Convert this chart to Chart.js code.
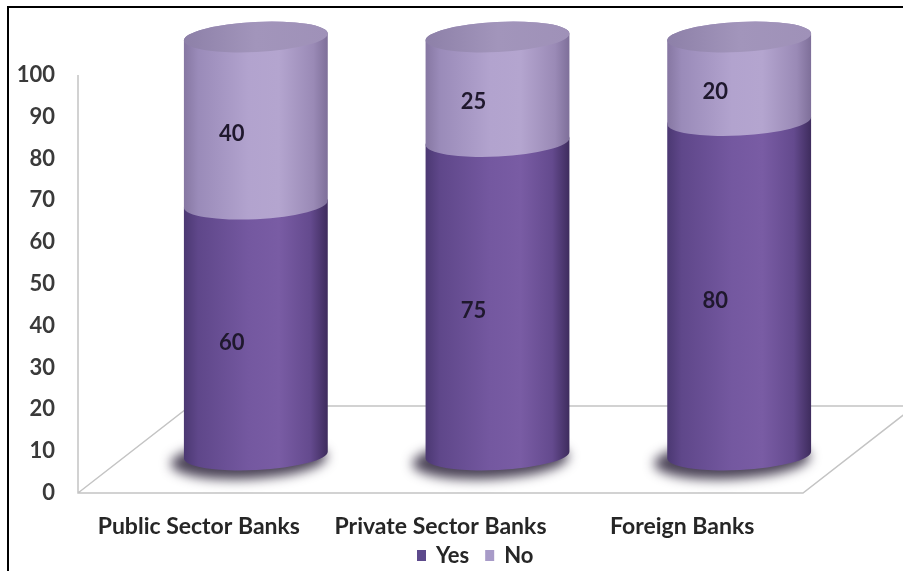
<!DOCTYPE html>
<html>
<head>
<meta charset="utf-8">
<script src="https://cdn.jsdelivr.net/npm/chart.js@4"></script>
<style>
  body { margin: 0; background: #fff; }
  #wrap { width: 903px; height: 571px; }
</style>
</head>
<body>
<div id="wrap"><canvas id="banks" width="903" height="571"></canvas></div>
<script>
const categories = ['Public Sector Banks', 'Private Sector Banks', 'Foreign Banks'];
const yesValues = [60, 75, 80];
const noValues = [40, 25, 20];
const seriesNames = ['Yes', 'No'];

const FONT = 'Lato, "DejaVu Sans", sans-serif';

// cylinder look: where the solid sits inside the 3-D floor
const SHIFT_X = 57;
const SHIFT_Y = -38;
const ELLIPSE_RY = 15;
const TILT = -0.05;
const FLOOR_DEPTH = { x: 112, y: -87 };

const yesStops = [[0, '#4b3872'], [0.1, '#5f478a'], [0.45, '#7458a0'], [0.66, '#795ca4'], [0.88, '#644a8e'], [1, '#3e2c5d']];
const noStops = [[0, '#8677a2'], [0.1, '#9a8bb9'], [0.45, '#b2a3ce'], [0.66, '#b4a5cf'], [0.9, '#9a8ab6'], [1, '#7e6f99']];
const topStops = [[0, '#8d80a8'], [0.5, '#a295bb'], [1, '#9f91b8']];

function sideGradient(ctx, cx, rx, stops) {
    let g = ctx.createLinearGradient(cx - rx, 0, cx + rx, 0);
    stops.forEach(([o, c]) => g.addColorStop(o, c));
    return g;
}

function bodyPath(ctx, cx, yTop, yBot, rx) {
    ctx.beginPath();
    ctx.ellipse(cx, yBot, rx, ELLIPSE_RY, TILT, 0, Math.PI, false);
    ctx.ellipse(cx, yTop, rx, ELLIPSE_RY, TILT, Math.PI, Math.PI * 2, false);
    ctx.closePath();
}

const framePlugin = {
    id: 'frame',
    beforeDraw(chart) {
        const ctx = chart.ctx;
        ctx.save();
        ctx.strokeStyle = '#000';
        ctx.lineWidth = 2;
        ctx.beginPath();
        ctx.moveTo(903, 7);
        ctx.lineTo(8, 7);
        ctx.lineTo(8, 571);
        ctx.stroke();
        ctx.restore();
    }
};

const cylinderPlugin = {
    id: 'cylinders',
    beforeDatasetsDraw(chart) {
        const ctx = chart.ctx;
        const area = chart.chartArea;
        const L = area.left, R = area.right, B = area.bottom;

        // floor and vertical axis line
        ctx.save();
        ctx.strokeStyle = '#c4c4c4';
        ctx.lineWidth = 1.5;
        ctx.beginPath();
        ctx.moveTo(L, area.top);
        ctx.lineTo(L, B);
        ctx.lineTo(R, B);
        ctx.lineTo(R + FLOOR_DEPTH.x, B + FLOOR_DEPTH.y);
        ctx.lineTo(L + FLOOR_DEPTH.x, B + FLOOR_DEPTH.y);
        ctx.lineTo(L, B);
        ctx.stroke();
        ctx.restore();

        const yesMeta = chart.getDatasetMeta(0);
        const noMeta = chart.getDatasetMeta(1);
        yesMeta.data.forEach((a, i) => {
            const b = noMeta.data[i];
            const cx = a.x + SHIFT_X;
            const rx = a.width / 2;
            const yBot = a.base + SHIFT_Y;
            const yMid = a.y + SHIFT_Y;
            const yTop = b.y + SHIFT_Y;

            // soft shadow on the floor
            ctx.save();
            ctx.filter = 'blur(6px)';
            ctx.fillStyle = 'rgba(30,20,45,0.8)';
            ctx.beginPath();
            ctx.ellipse(cx - 7, yBot + 5, rx + 6, ELLIPSE_RY + 4, TILT, 0, Math.PI * 2);
            ctx.fill();
            ctx.restore();

            ctx.save();
            ctx.fillStyle = sideGradient(ctx, cx, rx, yesStops);
            bodyPath(ctx, cx, yMid, yBot, rx);
            ctx.fill();

            ctx.fillStyle = sideGradient(ctx, cx, rx, noStops);
            bodyPath(ctx, cx, yTop, yMid, rx);
            ctx.fill();

            ctx.fillStyle = sideGradient(ctx, cx, rx, topStops);
            ctx.beginPath();
            ctx.ellipse(cx, yTop, rx, ELLIPSE_RY, TILT, 0, Math.PI * 2);
            ctx.fill();
            ctx.restore();
        });
        return false;
    },
    afterDraw(chart) {
        const ctx = chart.ctx;
        ctx.save();
        ctx.font = 'bold 22px ' + FONT;
        ctx.fillStyle = '#1f182d';
        ctx.textAlign = 'center';
        ctx.textBaseline = 'middle';
        chart.data.datasets.forEach((ds, d) => {
            chart.getDatasetMeta(d).data.forEach((el, i) => {
                const midY = (el.y + el.base) / 2;
                ctx.fillText(String(ds.data[i]), el.x + 33, midY - 25);
            });
        });

        // legend row under the category labels
        let x = 417;
        const y = 556;
        chart.data.datasets.forEach(ds => {
            ctx.fillStyle = ds.backgroundColor;
            ctx.fillRect(x, y - 6, 9, 11);
            x += 19;
            ctx.fillStyle = '#262626';
            ctx.textAlign = 'left';
            ctx.fillText(ds.label, x, y);
            x += ctx.measureText(ds.label).width + 16;
        });
        ctx.restore();
    }
};

new Chart(document.getElementById('banks'), {
    type: 'bar',
    data: {
        labels: categories,
        datasets: [
            { label: seriesNames[0], data: yesValues, backgroundColor: '#5d4a8c' },
            { label: seriesNames[1], data: noValues, backgroundColor: '#a89bc8' }
        ]
    },
    options: {
        responsive: false,
        animation: false,
        layout: { padding: { left: 8, right: 100, top: 75, bottom: 0 } },
        datasets: { bar: { categoryPercentage: 1, barPercentage: 0.596 } },
        plugins: {
            legend: { display: false },
            tooltip: { enabled: false }
        },
        scales: {
            x: {
                stacked: true,
                grid: { display: false, drawTicks: false },
                border: { display: false },
                ticks: {
                    padding: 20,
                    color: '#262626',
                    font: { family: FONT, size: 23, weight: 'bold' }
                },
                afterFit(scale) { scale.height = 78; }
            },
            y: {
                stacked: true,
                min: 0,
                max: 100,
                grid: { display: false, drawTicks: false },
                border: { display: false },
                ticks: {
                    stepSize: 10,
                    padding: 23,
                    color: '#3a3a3a',
                    font: { family: FONT, size: 22, weight: 'bold' }
                },
                afterFit(scale) { scale.width = 70; }
            }
        }
    },
    plugins: [framePlugin, cylinderPlugin]
});
</script>
</body>
</html>
